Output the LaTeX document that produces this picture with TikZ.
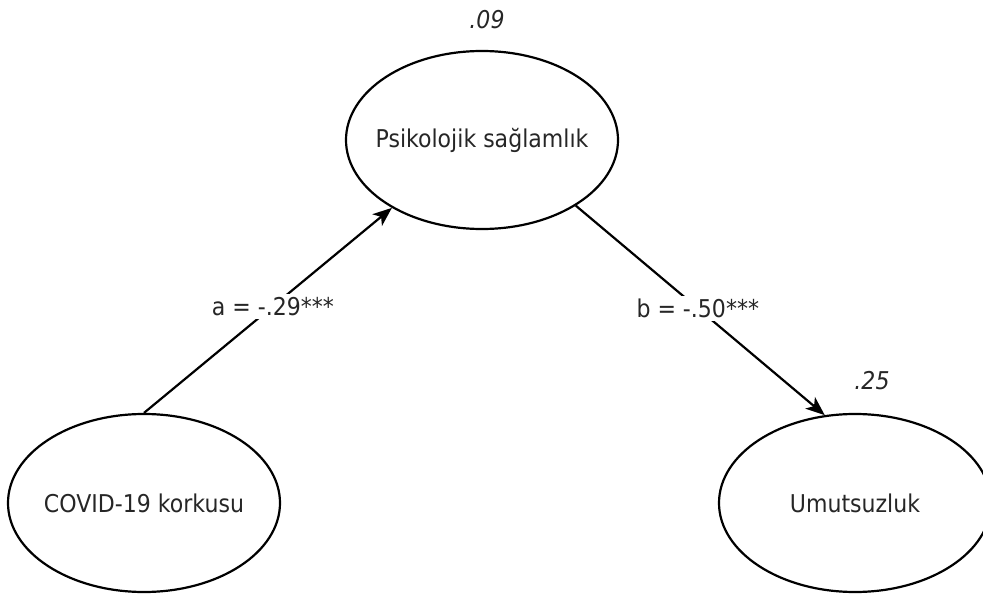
\documentclass[tikz,border=0pt]{standalone}
\usepackage{fontspec}
\setmainfont{DejaVu Sans}[FakeStretch=0.9]
\usetikzlibrary{shapes.geometric,arrows.meta}
\begin{document}
\begin{tikzpicture}[x=1pt,y=-1pt,
  txt/.style={text=black!85, font=\fontsize{24.5}{29}\selectfont},
  latent/.style={ellipse, draw, line width=2.2pt, inner sep=0pt,
    minimum width=272pt, minimum height=178pt,
    label={[txt]center:#1}},
  path/.style={draw, line width=2.2pt, -{Stealth[length=19pt,width=15pt,inset=5pt]}},
  coef/.style={txt, fill=white, inner sep=3pt},
  rsq/.style={txt, font=\fontsize{24.5}{29}\selectfont\itshape}]
\useasboundingbox (0,0) rectangle (983,596);
\node[latent={Psikolojik sağlamlık}] (p) at (482,140) {};
\node[latent={COVID-19 korkusu}] (c) at (144,503) {};
\node[latent={Umutsuzluk}] (u) at (855,503) {};
\node[rsq] (r1) at (487,20) {.09};
\node[rsq] (r2) at (872,381) {.25};
\draw[path] (c.north) -- node[coef, pos=0.52] (la) {a = -.29***} (p.217);
\draw[path] (p.325) -- node[coef, pos=0.49] (lb) {b = -.50***} (u.109);
\end{tikzpicture}
\end{document}
